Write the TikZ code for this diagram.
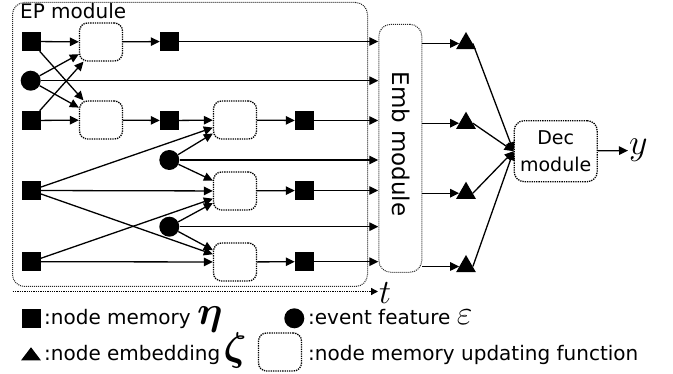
\RequirePackage{fix-cm}
\documentclass[tikz,border=0pt]{standalone}
\usepackage{fontspec}
\setmainfont{DejaVu Sans}
\usepackage{bm}
\usetikzlibrary{arrows.meta,shapes.geometric}

\tikzset{
	mem/.style={fill=black, minimum size=19pt, inner sep=0pt},
	ev/.style={circle, fill=black, minimum size=20pt, inner sep=0pt},
	embed/.style={regular polygon, regular polygon sides=3, fill=black, minimum size=23pt, inner sep=0pt},
	upd/.style={draw, densely dotted, line width=1.3pt, rounded corners=8pt, minimum width=43pt, minimum height=38pt, inner sep=0pt},
	module/.style={draw=black!85, densely dotted, line width=1pt, rounded corners=12pt, inner sep=0pt},
	arr/.style={-{Triangle[length=9pt,width=8.5pt]}, line width=1.3pt},
}

\begin{document}
\begin{tikzpicture}[x=1pt, y=-1pt, font=\fontsize{20}{23}\selectfont]
				\useasboundingbox (0,0) rectangle (673,374);
				
				\node[module, minimum width=355pt, minimum height=284pt, anchor=north west] (ep) at (12,2) {};
				\node[anchor=base west, inner sep=0pt] (eplab) at (20,18.3) {EP module};
				
				\node[mem] (m1) at (31,41.5) {};
				\node[ev] (e1) at (30.7,80.7) {};
				\node[mem] (m2) at (31,120.5) {};
				\node[mem] (m3) at (31,190.5) {};
				\node[mem] (m4) at (31,261.7) {};
				
				\node[upd] (u1) at (101,42) {};
				\node[upd] (u2) at (101,120) {};
				\node[mem] (m5) at (169.5,41.5) {};
				\node[mem] (m6) at (169.5,120.5) {};
				\node[ev] (e2) at (169.3,160) {};
				\node[ev] (e3) at (169.3,226.7) {};
				
				\node[upd] (u3) at (235,120) {};
				\node[upd] (u4) at (235,191) {};
				\node[upd] (u5) at (235,262) {};
				\node[mem] (m7) at (304.5,120.5) {};
				\node[mem] (m8) at (304.5,190.5) {};
				\node[mem] (m9) at (304.5,261.7) {};
				
				\node[module, minimum width=43pt, minimum height=248pt] (emb) at (400.3,148.3) {};
				\node[rotate=-90, inner sep=0pt, font=\fontsize{23}{23}\selectfont] (emblab) at (401,144) {Emb module};
				
				\node[embed] (z1) at (466,43.5) {};
				\node[embed] (z2) at (466,123.2) {};
				\node[embed] (z3) at (466,193.2) {};
				\node[embed] (z4) at (466,266.5) {};
				
				\node[upd, minimum width=83pt, minimum height=61pt, rounded corners=10pt, align=center, font=\fontsize{19}{27.5}\selectfont] (dec) at (555.7,151.2) {Dec\\module};
				\node[anchor=west, inner sep=1pt, font=\fontsize{36}{36}\selectfont] (ylab) at (628,150.5) {$y$};
				
				\draw[arr] (m1) -- (u1);
				\draw[arr] (m1) -- (u2);
				\draw[arr] (e1) -- (u1);
				\draw[arr] (e1) -- (u2);
				\draw[arr] (m2) -- (u1);
				\draw[arr] (m2) -- (u2);
				\draw[arr] (u1) -- (m5);
				\draw[arr] (u2) -- (m6);
				
				\draw[arr] (m6) -- (u3);
				\draw[arr] (e2) -- (u3);
				\draw[arr] (m3) -- (u3);
				\draw[arr] (e2) -- (u4);
				\draw[arr] (m3) -- (u4);
				\draw[arr] (m4) -- (u4);
				\draw[arr] (e3) -- (u4);
				\draw[arr] (m3) -- (u5);
				\draw[arr] (e3) -- (u5);
				\draw[arr] (m4) -- (u5);
				\draw[arr] (u3) -- (m7);
				\draw[arr] (u4) -- (m8);
				\draw[arr] (u5) -- (m9);
				
				\draw[arr] (m5) -- (m5 -| emb.west);
				\draw[arr] (e1) -- (e1 -| emb.west);
				\draw[arr] (m7) -- (m7 -| emb.west);
				\draw[arr] (e2) -- (e2 -| emb.west);
				\draw[arr] (m8) -- (m8 -| emb.west);
				\draw[arr] (e3) -- (e3 -| emb.west);
				\draw[arr] (m9) -- (m9 -| emb.west);
				
				\draw[arr] (emb.east |- z1) -- (z1);
				\draw[arr] (emb.east |- z2) -- (z2);
				\draw[arr] (emb.east |- z3) -- (z3);
				\draw[arr] (emb.east |- z4) -- (z4);
				\draw[arr] (z1.east) -- (dec.west);
				\draw[arr] (z2.east) -- (dec.west);
				\draw[arr] (z3.east) -- (dec.west);
				\draw[arr] (z4.east) -- (dec.west);
				\draw[arr] (dec) -- (ylab);
				
				\coordinate (t0) at (12.7,291.5);
				\node[anchor=west, inner sep=1pt, font=\fontsize{34}{34}\selectfont] (tlab) at (378,293) {$t$};
				\draw[densely dotted, line width=1.3pt, -{Triangle[length=7pt,width=7pt]}] (t0) -- (t0 -| tlab.west);
				
				\node[mem] (lm) at (31,318.4) {};
				\node[anchor=base west, inner sep=0pt] (lmt) at (44,324.3) {:node memory {\fontsize{40}{40}\selectfont$\bm{\eta}$}};
				\node[ev] (le) at (294.3,318.3) {};
				\node[anchor=base west, inner sep=0pt] (let) at (308,324.3) {:event feature {\fontsize{34}{34}\selectfont$\varepsilon$}};
				\node[embed, yscale=0.76] (lz) at (31,356) {};
				\node[anchor=base west, inner sep=0pt] (lzt) at (44,360.7) {:node embedding\,{\fontsize{40}{40}\selectfont$\bm{\zeta}$}};
				\node[upd] (lu) at (280,352) {};
				\node[anchor=base west, inner sep=0pt] (lut) at (308,360.7) {:node memory updating function};
			\end{tikzpicture}
\end{document}
